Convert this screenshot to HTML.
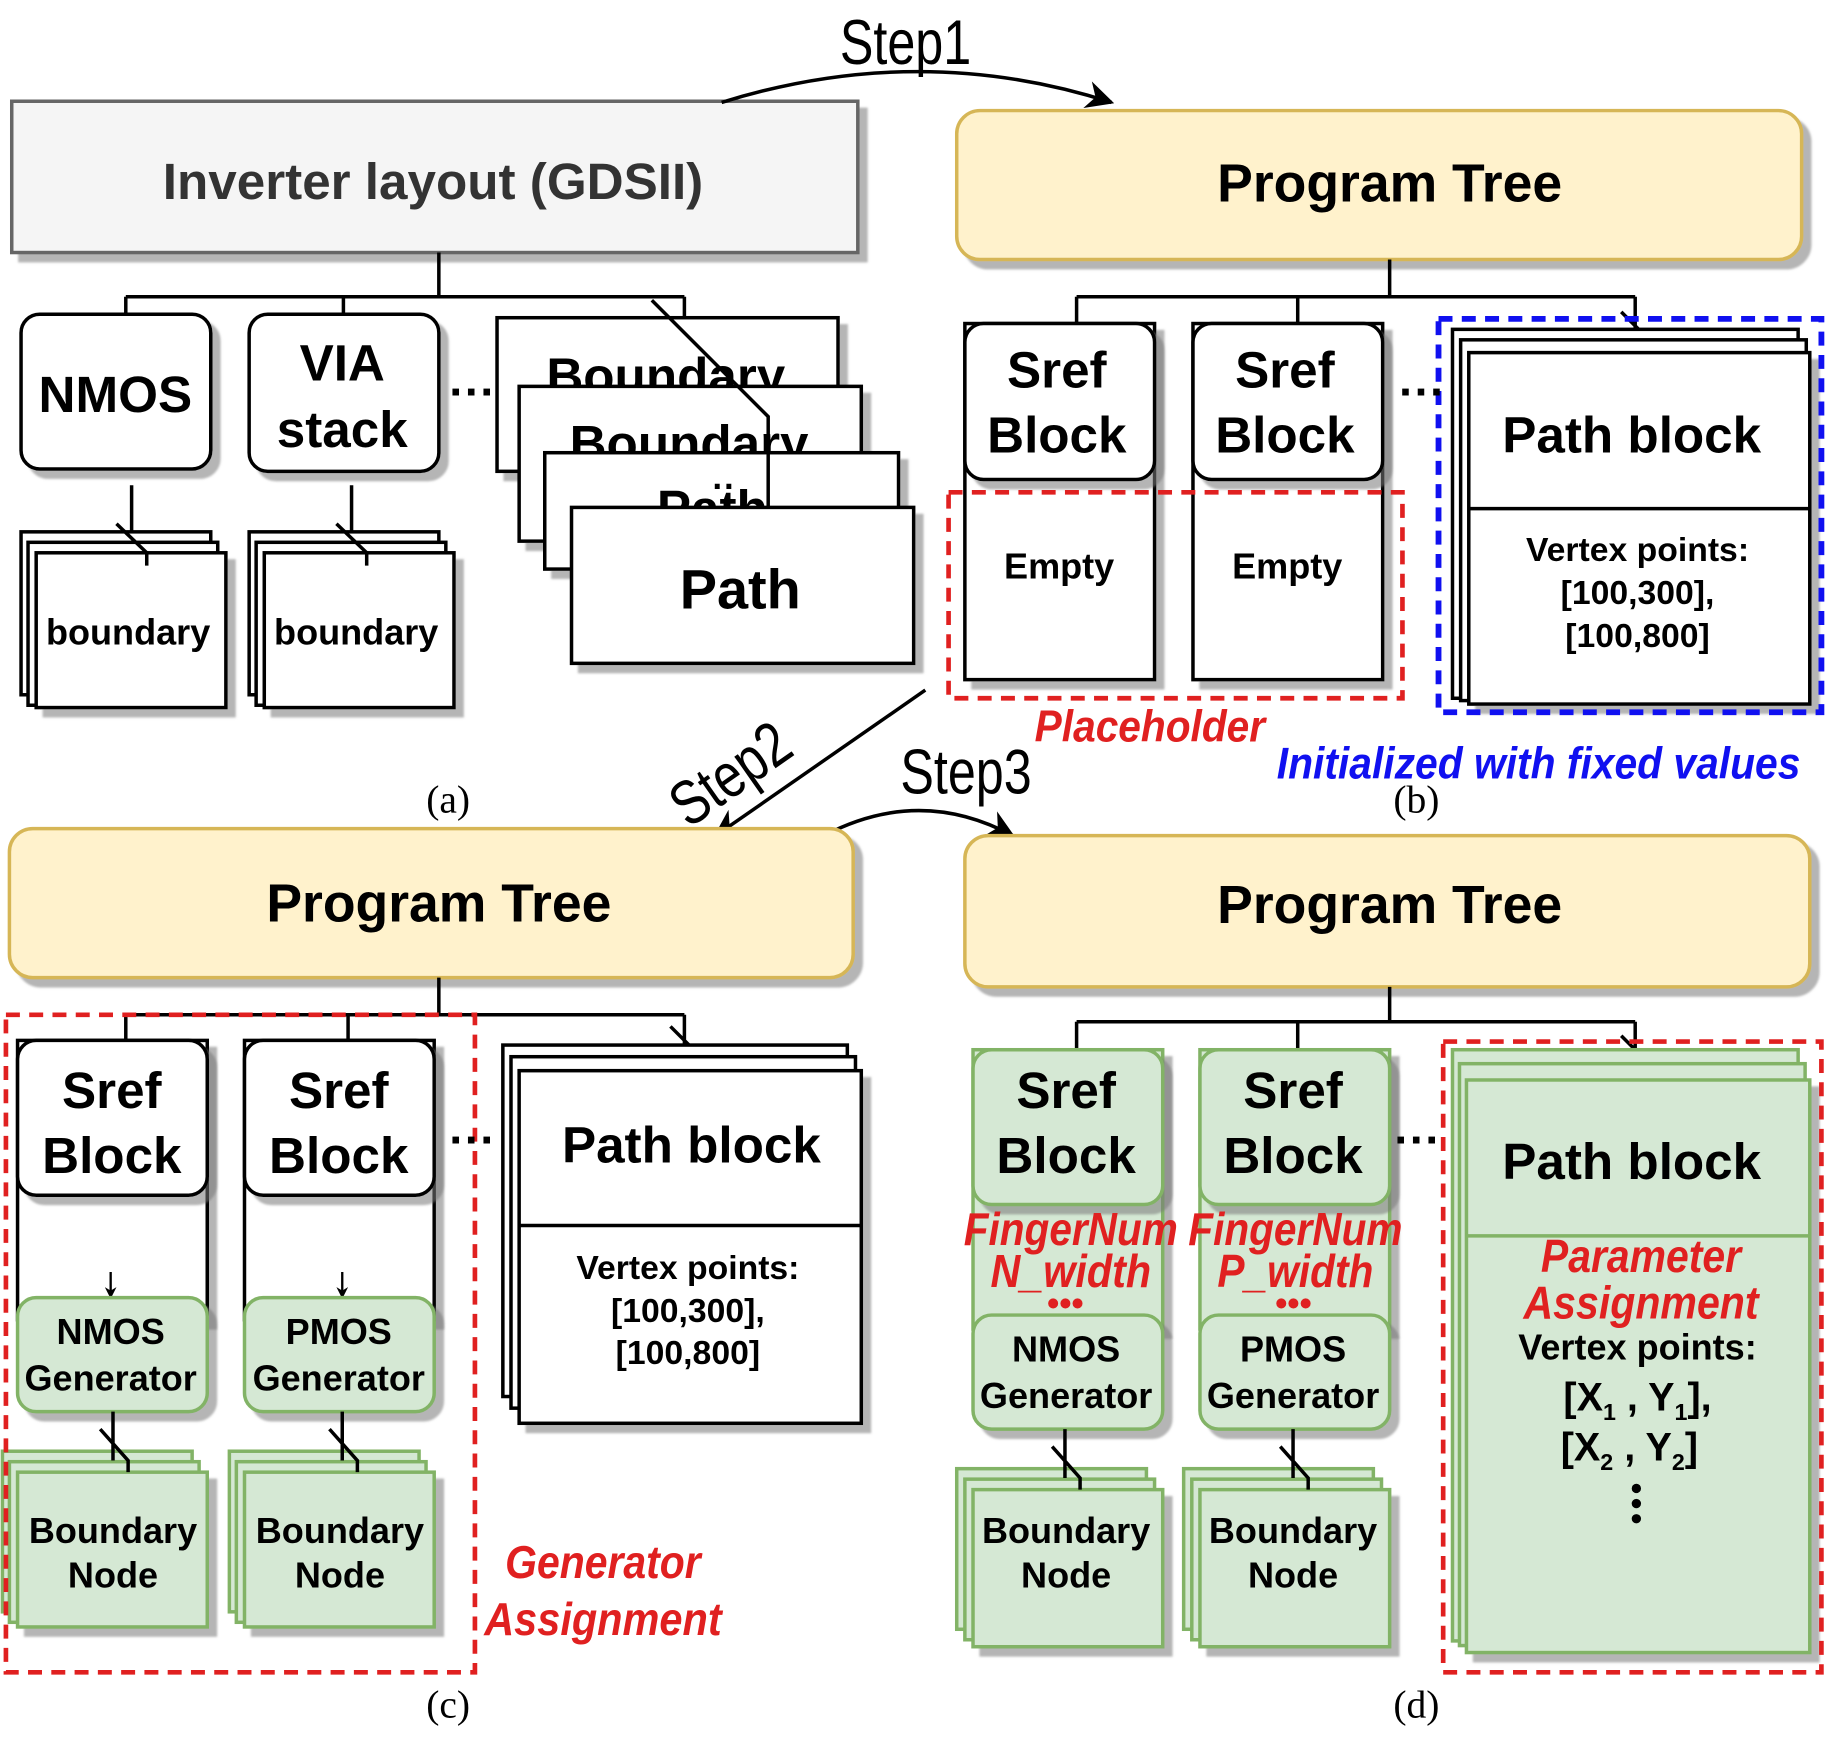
<!DOCTYPE html>
<html><head><meta charset="utf-8"><style>
html,body{margin:0;padding:0;background:#fff;}
svg{display:block;}
text{font-family:"Liberation Sans",sans-serif;}
.b{font-weight:bold;}
</style></head><body>
<svg width="1825" height="1741" viewBox="0 0 1568 1496" xmlns="http://www.w3.org/2000/svg">
<defs>
<filter id="s" x="-10%" y="-10%" width="130%" height="130%"><feDropShadow dx="7" dy="7" stdDeviation="1" flood-color="#777" flood-opacity="0.55"/></filter>
<marker id="ar" viewBox="0 0 10 10" refX="9" refY="5" markerWidth="8" markerHeight="8" orient="auto"><path d="M0,0 L10,5 L0,10 L3,5 z" fill="#000"/></marker>
<marker id="as" viewBox="0 0 10 10" refX="9" refY="5" markerWidth="5" markerHeight="5" orient="auto"><path d="M0,0 L10,5 L0,10 L3,5 z" fill="#000"/></marker>
</defs>
<g stroke="#000" stroke-width="3" fill="none">

<!-- ===== (a) ===== -->
<rect x="10" y="87" width="727" height="130" fill="#f5f5f5" stroke="#666" filter="url(#s)"/>
<path d="M377 217V255M108 255H588M108 255V270M295 255V270M588 255V273"/>
<rect x="18" y="270" width="163" height="133" rx="16" fill="#fff" filter="url(#s)"/>
<rect x="214" y="270" width="163" height="135" rx="16" fill="#fff" filter="url(#s)"/>
<rect x="427" y="273" width="293" height="132" fill="#fff" filter="url(#s)"/>
<text x="572" y="338" font-size="44" font-weight="bold" text-anchor="middle" fill="#000" stroke="none">Boundary</text>
<rect x="446" y="332" width="294" height="133" fill="#fff" filter="url(#s)"/>
<text x="592" y="396" font-size="44" font-weight="bold" text-anchor="middle" fill="#000" stroke="none">Boundary</text>
<rect x="468" y="389" width="304" height="100" fill="#fff" filter="url(#s)"/>
<text x="612" y="452" font-size="44" font-weight="bold" text-anchor="middle" fill="#000" stroke="none">Path</text>
<rect x="491" y="436" width="294" height="134" fill="#fff" filter="url(#s)"/>
<path d="M560 258L660 358V436"/>
<!-- boundary stacks -->
<rect x="18" y="457" width="163" height="140" fill="#fff"/>
<rect x="24" y="466" width="163" height="140" fill="#fff"/>
<rect x="31" y="475" width="163" height="133" fill="#fff" filter="url(#s)"/>
<path d="M113 417V458M100 450L126 475M126 475V486" />
<rect x="214" y="457" width="163" height="140" fill="#fff"/>
<rect x="220" y="466" width="163" height="140" fill="#fff"/>
<rect x="227" y="475" width="163" height="133" fill="#fff" filter="url(#s)"/>
<path d="M302 417V458M289 450L315 475M315 475V486"/>

<!-- ===== (b) ===== -->
<rect x="822" y="95" width="726" height="128" rx="20" fill="#fff2cc" stroke="#d6b656" filter="url(#s)"/>
<path d="M1194 223V255M925 255H1405M925 255V278M1115 255V278M1405 255V290M1393 268L1418 293"/>
<rect x="829" y="278" width="163" height="306" fill="#fff" filter="url(#s)"/>
<rect x="829" y="278" width="163" height="134" rx="16" fill="#fff" filter="url(#s)"/>
<rect x="1025" y="278" width="163" height="306" fill="#fff" filter="url(#s)"/>
<rect x="1025" y="278" width="163" height="134" rx="16" fill="#fff" filter="url(#s)"/>
<rect x="1248" y="283" width="297" height="317" fill="#fff"/>
<rect x="1255" y="292" width="297" height="310" fill="#fff"/>
<rect x="1262" y="303" width="293" height="302" fill="#fff" filter="url(#s)"/>
<path d="M1262 437H1555"/>
<rect x="815" y="423" width="390" height="177" stroke="#e02020" stroke-dasharray="12,8" stroke-width="4"/>
<rect x="1236" y="274" width="329" height="338" stroke="#1010f0" stroke-dasharray="12,8" stroke-width="5"/>

<!-- Steps -->
<path d="M620 88Q790 35 955 88" marker-end="url(#ar)"/>
<path d="M795 593L615 718" marker-end="url(#ar)"/>
<path d="M708 718Q790 675 870 718" marker-end="url(#ar)"/>

<!-- ===== (c) ===== -->
<rect x="8" y="712" width="725" height="128" rx="20" fill="#fff2cc" stroke="#d6b656" filter="url(#s)"/>
<path d="M377 840V872M108 872H588M108 872V894M299 872V894M588 872V900M576 882L600 906"/>
<rect x="15" y="894" width="163" height="240" fill="#fff" filter="url(#s)"/>
<rect x="15" y="894" width="163" height="133" rx="16" fill="#fff" filter="url(#s)"/>
<rect x="210" y="894" width="163" height="240" fill="#fff" filter="url(#s)"/>
<rect x="210" y="894" width="163" height="133" rx="16" fill="#fff" filter="url(#s)"/>
<path d="M95 1093V1115" stroke-width="2" marker-end="url(#as)"/>
<path d="M294 1093V1115" stroke-width="2" marker-end="url(#as)"/>
<rect x="15" y="1115" width="163" height="98" rx="16" fill="#d5e8d4" stroke="#82b366" filter="url(#s)"/>
<rect x="210" y="1115" width="163" height="98" rx="16" fill="#d5e8d4" stroke="#82b366" filter="url(#s)"/>
<rect x="2" y="1247" width="163" height="138" fill="#d5e8d4" stroke="#82b366"/>
<rect x="8" y="1256" width="163" height="138" fill="#d5e8d4" stroke="#82b366"/>
<rect x="15" y="1265" width="163" height="133" fill="#d5e8d4" stroke="#82b366" filter="url(#s)"/>
<rect x="197" y="1247" width="163" height="138" fill="#d5e8d4" stroke="#82b366"/>
<rect x="203" y="1256" width="163" height="138" fill="#d5e8d4" stroke="#82b366"/>
<rect x="210" y="1265" width="163" height="133" fill="#d5e8d4" stroke="#82b366" filter="url(#s)"/>
<path d="M97 1213V1255M86 1228L110 1255V1265M294 1213V1255M283 1228L307 1255V1265"/>
<rect x="432" y="898" width="296" height="302" fill="#fff"/>
<rect x="439" y="908" width="296" height="302" fill="#fff"/>
<rect x="446" y="920" width="294" height="303" fill="#fff" filter="url(#s)"/>
<path d="M446 1053H740"/>
<rect x="5" y="872" width="403" height="565" stroke="#e02020" stroke-dasharray="12,8" stroke-width="4"/>

<!-- ===== (d) ===== -->
<rect x="829" y="718" width="726" height="130" rx="20" fill="#fff2cc" stroke="#d6b656" filter="url(#s)"/>
<path d="M1194 848V878M925 878H1405M925 878V902M1115 878V902M1405 878V910M1393 890L1418 915"/>
<rect x="836" y="902" width="163" height="240" fill="#d5e8d4" stroke="#82b366" filter="url(#s)"/>
<rect x="836" y="902" width="163" height="133" rx="16" fill="#d5e8d4" stroke="#82b366" filter="url(#s)"/>
<rect x="1031" y="902" width="163" height="240" fill="#d5e8d4" stroke="#82b366" filter="url(#s)"/>
<rect x="1031" y="902" width="163" height="133" rx="16" fill="#d5e8d4" stroke="#82b366" filter="url(#s)"/>
<rect x="836" y="1130" width="163" height="98" rx="16" fill="#d5e8d4" stroke="#82b366" filter="url(#s)"/>
<rect x="1031" y="1130" width="163" height="98" rx="16" fill="#d5e8d4" stroke="#82b366" filter="url(#s)"/>
<rect x="822" y="1262" width="163" height="138" fill="#d5e8d4" stroke="#82b366"/>
<rect x="829" y="1271" width="163" height="138" fill="#d5e8d4" stroke="#82b366"/>
<rect x="836" y="1280" width="163" height="135" fill="#d5e8d4" stroke="#82b366" filter="url(#s)"/>
<rect x="1017" y="1262" width="163" height="138" fill="#d5e8d4" stroke="#82b366"/>
<rect x="1024" y="1271" width="163" height="138" fill="#d5e8d4" stroke="#82b366"/>
<rect x="1031" y="1280" width="163" height="135" fill="#d5e8d4" stroke="#82b366" filter="url(#s)"/>
<path d="M915 1228V1270M904 1243L928 1270V1280M1111 1228V1270M1100 1243L1124 1270V1280"/>
<rect x="1248" y="902" width="297" height="508" fill="#d5e8d4" stroke="#82b366"/>
<rect x="1254" y="914" width="297" height="500" fill="#d5e8d4" stroke="#82b366"/>
<rect x="1260" y="928" width="295" height="492" fill="#d5e8d4" stroke="#82b366" filter="url(#s)"/>
<path d="M1260 1062H1555" stroke="#82b366"/>
<rect x="1240" y="895" width="325" height="542" stroke="#e02020" stroke-dasharray="12,8" stroke-width="4"/>
</g>

<!-- ===== TEXT ===== -->
<g class="b" text-anchor="middle" fill="#000">
<text x="372" y="171" font-size="44" fill="#333">Inverter layout (GDSII)</text>
<text x="99" y="354" font-size="44">NMOS</text>
<text x="294" y="327" font-size="44">VIA</text>
<text x="294" y="384" font-size="44">stack</text>
<text x="636" y="523" font-size="48">Path</text>
<text x="110" y="554" font-size="31">boundary</text>
<text x="306" y="554" font-size="31">boundary</text>

<text x="1194" y="173" font-size="46">Program Tree</text>
<text x="908" y="333" font-size="44">Sref</text>
<text x="908" y="389" font-size="44">Block</text>
<text x="1104" y="333" font-size="44">Sref</text>
<text x="1104" y="389" font-size="44">Block</text>
<text x="910" y="497" font-size="31">Empty</text>
<text x="1106" y="497" font-size="31">Empty</text>
<text x="1402" y="389" font-size="44">Path block</text>
<text x="1407" y="482" font-size="29">Vertex points:</text>
<text x="1407" y="519" font-size="29">[100,300],</text>
<text x="1407" y="556" font-size="29">[100,800]</text>

<text x="377" y="792" font-size="46">Program Tree</text>
<text x="96" y="952" font-size="44">Sref</text>
<text x="96" y="1008" font-size="44">Block</text>
<text x="291" y="952" font-size="44">Sref</text>
<text x="291" y="1008" font-size="44">Block</text>
<text x="95" y="1155" font-size="31">NMOS</text>
<text x="95" y="1195" font-size="31">Generator</text>
<text x="291" y="1155" font-size="31">PMOS</text>
<text x="291" y="1195" font-size="31">Generator</text>
<text x="97" y="1326" font-size="31">Boundary</text>
<text x="97" y="1364" font-size="31">Node</text>
<text x="292" y="1326" font-size="31">Boundary</text>
<text x="292" y="1364" font-size="31">Node</text>
<text x="594" y="999" font-size="44">Path block</text>
<text x="591" y="1099" font-size="29">Vertex points:</text>
<text x="591" y="1136" font-size="29">[100,300],</text>
<text x="591" y="1172" font-size="29">[100,800]</text>

<text x="1194" y="793" font-size="46">Program Tree</text>
<text x="916" y="952" font-size="44">Sref</text>
<text x="916" y="1008" font-size="44">Block</text>
<text x="1111" y="952" font-size="44">Sref</text>
<text x="1111" y="1008" font-size="44">Block</text>
<text x="916" y="1170" font-size="31">NMOS</text>
<text x="916" y="1210" font-size="31">Generator</text>
<text x="1111" y="1170" font-size="31">PMOS</text>
<text x="1111" y="1210" font-size="31">Generator</text>
<text x="916" y="1326" font-size="31">Boundary</text>
<text x="916" y="1364" font-size="31">Node</text>
<text x="1111" y="1326" font-size="31">Boundary</text>
<text x="1111" y="1364" font-size="31">Node</text>
<text x="1402" y="1013" font-size="44">Path block</text>
<text x="1407" y="1168" font-size="31">Vertex points:</text>
<text x="1407" y="1212" font-size="34">[X<tspan font-size="20" dy="8">1</tspan><tspan dy="-8"> , Y</tspan><tspan font-size="20" dy="8">1</tspan><tspan dy="-8">],</tspan></text>
<text x="1400" y="1255" font-size="34">[X<tspan font-size="20" dy="8">2</tspan><tspan dy="-8"> , Y</tspan><tspan font-size="20" dy="8">2</tspan><tspan dy="-8">]</tspan></text>
</g>
<g fill="#000"><circle cx="1406" cy="1279" r="4"/><circle cx="1406" cy="1292" r="4"/><circle cx="1406" cy="1305" r="4"/></g>
<g class="b" font-size="40" fill="#000">
<text x="386" y="350">···</text><text x="1202" y="350">···</text>
<text x="386" y="993">···</text><text x="1198" y="993">···</text>
</g>
<text x="612" y="428" font-size="30" class="b">··</text>

<!-- red/blue labels -->
<g class="b" font-style="italic" text-anchor="middle" fill="#e02020" lengthAdjust="spacingAndGlyphs">
<text x="988" y="637" font-size="38" textLength="198" lengthAdjust="spacingAndGlyphs">Placeholder</text>
<text x="518" y="1356" font-size="40" textLength="168" lengthAdjust="spacingAndGlyphs">Generator</text>
<text x="518" y="1405" font-size="40" textLength="204" lengthAdjust="spacingAndGlyphs">Assignment</text>
<text x="920" y="1070" font-size="40" textLength="184" lengthAdjust="spacingAndGlyphs">FingerNum</text>
<text x="920" y="1106" font-size="40" textLength="138" lengthAdjust="spacingAndGlyphs">N_width</text>
<text x="1113" y="1070" font-size="40" textLength="184" lengthAdjust="spacingAndGlyphs">FingerNum</text>
<text x="1113" y="1106" font-size="40" textLength="134" lengthAdjust="spacingAndGlyphs">P_width</text>
<text x="1410" y="1093" font-size="40" textLength="172" lengthAdjust="spacingAndGlyphs">Parameter</text>
<text x="1410" y="1133" font-size="40" textLength="202" lengthAdjust="spacingAndGlyphs">Assignment</text>
<text x="915" y="1130" font-size="30">•••</text>
<text x="1111" y="1130" font-size="30">•••</text>
</g>
<text x="1322" y="669" font-size="38" class="b" font-style="italic" text-anchor="middle" fill="#1010f0" textLength="450" lengthAdjust="spacingAndGlyphs">Initialized with fixed values</text>

<!-- steps -->
<g font-size="54" text-anchor="middle" fill="#000">
<text x="778" y="55" transform="translate(778 0) scale(0.8 1) translate(-778 0)">Step1</text>
<text x="830" y="682" transform="translate(830 0) scale(0.8 1) translate(-830 0)">Step3</text>
<text x="0" y="0" transform="translate(638 680) rotate(-35) scale(0.8 1)">Step2</text>
</g>
<g font-size="34" text-anchor="middle" fill="#000">
<text x="385" y="698" style="font-family:'Liberation Serif',serif">(a)</text>
<text x="1217" y="698" style="font-family:'Liberation Serif',serif">(b)</text>
<text x="385" y="1476" style="font-family:'Liberation Serif',serif">(c)</text>
<text x="1217" y="1476" style="font-family:'Liberation Serif',serif">(d)</text>
</g>
</svg>
</body></html>
